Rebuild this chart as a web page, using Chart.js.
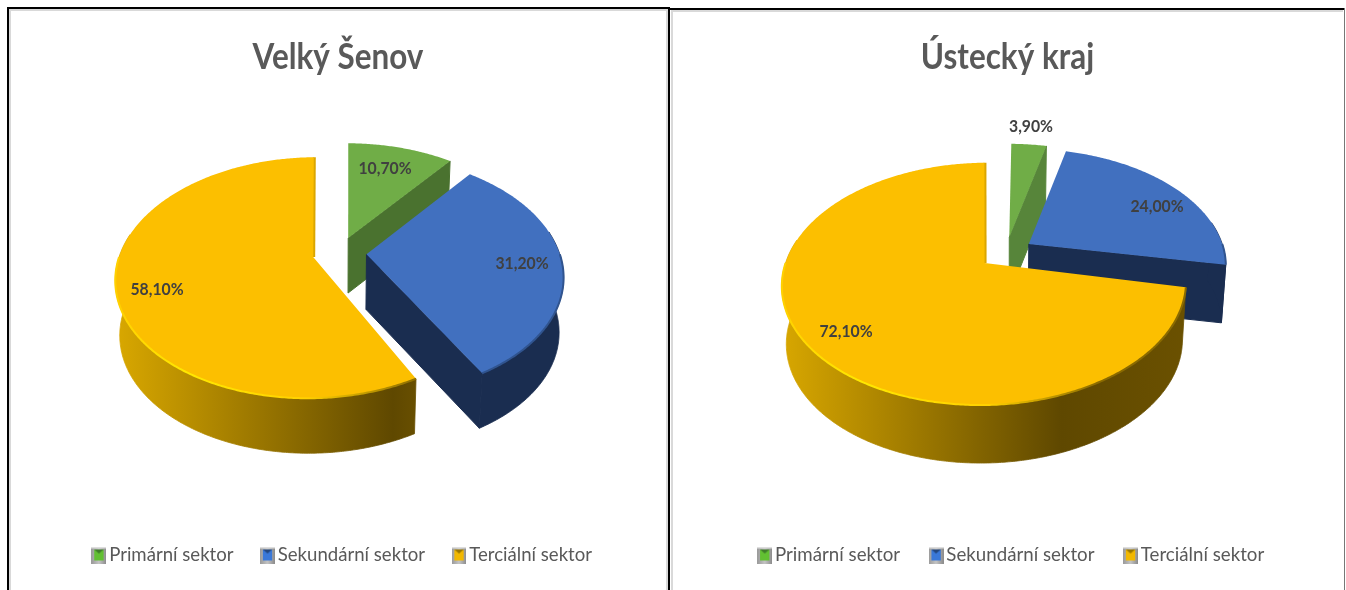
<!DOCTYPE html>
<html lang="cs">
<head>
<meta charset="utf-8">
<title>Velký Šenov a Ústecký kraj</title>
<script src="https://cdn.jsdelivr.net/npm/chart.js@4"></script>
<style>
html,body{margin:0;padding:0;background:#fff;width:1346px;height:590px;overflow:hidden}
canvas{position:absolute;top:0}
.b{position:absolute;background:#000}
.g{position:absolute;background:#d9d9d9}
</style>
</head>
<body>
<canvas id="c1" width="660" height="575" style="left:8px"></canvas>
<canvas id="c2" width="677" height="575" style="left:669px"></canvas>
<div class="g" style="left:9px;top:9px;width:659px;height:2px"></div>
<div class="g" style="left:9px;top:9px;width:2px;height:581px"></div>
<div class="g" style="left:666px;top:9px;width:2px;height:581px"></div>
<div class="g" style="left:671px;top:10px;width:672px;height:2px"></div>
<div class="g" style="left:671px;top:10px;width:2px;height:580px"></div>
<div class="b" style="left:7px;top:7px;width:663px;height:2px"></div>
<div class="b" style="left:7px;top:7px;width:2px;height:583px"></div>
<div class="b" style="left:668px;top:7px;width:2px;height:583px"></div>
<div class="b" style="left:670px;top:8px;width:675px;height:2px"></div>
<div class="b" style="left:1344px;top:8px;width:1px;height:582px;background:#777"></div>
<script>
const categories = ['Primární sektor', 'Sekundární sektor', 'Terciální sektor'];
const senovValues = [10.7, 31.2, 58.1];
const krajValues = [3.9, 24.0, 72.1];
const senovTitle = 'Velký Šenov';
const krajTitle = 'Ústecký kraj';
const topColors = ['#70ad47', '#4170bf', '#fcbf00'];
const LATO = 'Lato, Carlito, "Open Sans", sans-serif';
const EXPLODE = 0.14;

function project(p, u, v) {
  const w = 1 - p.k * v;
  return [p.x0 + p.a * u / w, p.y0 + p.b * v / w];
}
function lower(p, q) {
  return [p.x0 + (q[0] - p.x0) * 0.98, q[1] + p.depth];
}
function projectingContext(ctx, p, centre, unit) {
  let tx = 0, ty = 0;
  const stack = [];
  const map = (x, y) => {
    let dx = x - centre.x, dy = y - centre.y;
    const d = Math.hypot(dx, dy);
    if (d > 1e-6) { dx /= d; dy /= d; } else { dx = 0; dy = 0; }
    return project(p, dx + tx / unit, dy + ty / unit);
  };
  const own = {
    save() { stack.push([tx, ty]); ctx.save(); },
    restore() { [tx, ty] = stack.pop(); ctx.restore(); },
    translate(x, y) { tx += x; ty += y; },
    moveTo(x, y) { const q = map(x, y); ctx.moveTo(q[0], q[1]); },
    lineTo(x, y) { const q = map(x, y); ctx.lineTo(q[0], q[1]); },
    arc(x, y, r, s, e, ccw) {
      let sweep = e - s;
      if (ccw && sweep > 0) sweep -= Math.PI * 2;
      if (!ccw && sweep < 0) sweep += Math.PI * 2;
      const n = Math.max(2, Math.ceil(Math.abs(sweep) / 0.01));
      for (let i = 0; i <= n; i++) {
        const a = s + sweep * i / n;
        const q = map(x + r * Math.cos(a), y + r * Math.sin(a));
        ctx.lineTo(q[0], q[1]);
      }
    }
  };
  return new Proxy(ctx, {
    get(t, k) {
      if (k in own) return own[k];
      const val = t[k];
      return typeof val === 'function' ? val.bind(t) : val;
    },
    set(t, k, val) { t[k] = val; return true; }
  });
}
function poly(ctx, pts) {
  ctx.beginPath();
  pts.forEach((q, i) => i ? ctx.lineTo(q[0], q[1]) : ctx.moveTo(q[0], q[1]));
  ctx.closePath();
}
function hGrad(ctx, stops) {
  const x0 = stops[0][0], span = stops[stops.length - 1][0] - x0;
  const g = ctx.createLinearGradient(x0, 0, x0 + span, 0);
  stops.forEach(s => g.addColorStop((s[0] - x0) / span, s[1]));
  return g;
}
function squeeze(chart, box, sx, dx) {
  if (box._squeezed) return;
  box._squeezed = true;
  const draw = box.draw.bind(box);
  box.draw = function (area) {
    const ctx = chart.ctx, cx = chart.width / 2;
    ctx.save();
    ctx.translate(cx + dx, 0);
    ctx.scale(sx, 1);
    ctx.translate(-cx, 0);
    draw(area);
    ctx.restore();
  };
}
const extruded = {
  id: 'extruded',
  beforeDraw(chart, args, opts) {
    squeeze(chart, chart.titleBlock, 0.85, 0);
    squeeze(chart, chart.legend, opts.view.legendScale, opts.view.legendShift);
  },
  beforeDatasetDraw(chart, args, opts) {
    const ctx = chart.ctx, p = opts.view, meta = args.meta;
    meta.data.forEach((arc, i) => {
      const R = arc.outerRadius, off = arc.options.offset / 4;
      const mid = (arc.startAngle + arc.endAngle) / 2;
      const cu = Math.cos(mid) * off / R, cv = Math.sin(mid) * off / R;
      const rim = a => project(p, cu + Math.cos(a), cv + Math.sin(a));
      const apex = project(p, cu, cv);
      // the library trims an offset slice's arc by this angle at each end
      const fix = 1 - Math.sin(Math.min(Math.PI, arc.endAngle - arc.startAngle));
      const trim = (off * fix) / (2 * Math.PI * (R + off * fix));
      const startA = arc.startAngle + trim, endA = arc.endAngle - trim;
      const wallColor = p.walls[i];
      // radial wall facing the viewer
      const walls = [];
      if (Math.cos(endA) > 0.01) walls.push(endA);
      if (Math.cos(startA) < -0.03) walls.push(startA);
      ctx.fillStyle = wallColor;
      ctx.strokeStyle = wallColor;
      ctx.lineWidth = 1;
      walls.forEach(a => {
        const q = rim(a);
        poly(ctx, [apex, q, lower(p, q), lower(p, apex)]);
        ctx.fill();
        ctx.stroke();
      });
      // sliver of the cut face beside the straight back edge
      if (i === 2) {
        const q = rim(endA);
        ctx.beginPath();
        ctx.moveTo(apex[0] + 0.5, apex[1]);
        ctx.lineTo(q[0] + 0.5, q[1]);
        ctx.lineWidth = 3;
        ctx.strokeStyle = '#dba600';
        ctx.stroke();
      }
      // outer wall
      const from = Math.max(startA, -0.2), to = Math.min(endA, Math.PI + 0.2);
      if (to > from) {
        const up = [];
        for (let a = from; a < to; a += 0.01) up.push(rim(a));
        up.push(rim(to));
        const down = up.map(q => lower(p, q)).reverse();
        const fill = i === 2 ? hGrad(ctx, p.wall) : wallColor;
        ctx.fillStyle = fill;
        ctx.strokeStyle = fill;
        ctx.lineWidth = 0.8;
        poly(ctx, up.concat(down));
        ctx.fill();
        ctx.stroke();
      }
      // top face: the library's own arc, traced through the perspective view
      arc.draw(projectingContext(ctx, p, {x: arc.x, y: arc.y}, R));
      // lit rim
      const a1 = Math.max(startA, 0), a2 = Math.min(endA, Math.PI);
      if (a2 > a1) {
        ctx.save();
        ctx.beginPath();
        let first = true;
        for (let a = a1; a < a2; a += 0.01) {
          const q = rim(a);
          if (first) { ctx.moveTo(q[0], q[1]); first = false; } else ctx.lineTo(q[0], q[1]);
        }
        const last = rim(a2);
        ctx.lineTo(last[0], last[1]);
        ctx.lineWidth = 2;
        ctx.strokeStyle = i === 2 ? hGrad(ctx, p.rim) : '#30548f';
        ctx.stroke();
        ctx.restore();
      }
    });
    return false;
  },
  afterDatasetsDraw(chart, args, opts) {
    const ctx = chart.ctx;
    ctx.save();
    ctx.font = 'bold 17.5px ' + LATO;
    ctx.fillStyle = '#404040';
    ctx.textAlign = 'center';
    ctx.textBaseline = 'middle';
    chart.data.datasets[0].data.forEach((val, i) => {
      const text = val.toFixed(2).replace('.', ',') + '%';
      ctx.save();
      ctx.translate(opts.labels[i][0], opts.labels[i][1]);
      ctx.scale(0.9, 1);
      ctx.fillText(text, 0, 0);
      ctx.restore();
    });
    ctx.restore();
  }
};
function marker(color, dark) {
  const c = document.createElement('canvas');
  c.width = 16; c.height = 17;
  const x = c.getContext('2d');
  const g = x.createLinearGradient(0, 0, 16, 0);
  g.addColorStop(0, '#9a9a9a'); g.addColorStop(0.5, '#c4c4c4'); g.addColorStop(1, '#8b8b8b');
  x.fillStyle = g; x.fillRect(0, 0, 16, 17);
  x.fillStyle = '#dedede'; x.fillRect(0, 0, 16, 2);
  x.fillStyle = color; x.fillRect(3, 3, 10, 11);
  x.fillStyle = dark;
  x.beginPath(); x.moveTo(3, 3); x.lineTo(13, 3); x.lineTo(8, 7); x.closePath(); x.fill();
  return c;
}
const markerColors = [['#62c032', '#3f7d2a'], ['#3a78d8', '#24477e'], ['#f2b800', '#9a7700']];
function makeChart(id, title, values, view, labels) {
  new Chart(document.getElementById(id), {
    type: 'pie',
    data: {
      labels: categories,
      datasets: [{
        data: values,
        backgroundColor: topColors,
        borderWidth: 0,
        hoverOffset: 0,
        offset: c => {
          const a = c.chart.chartArea;
          const h = a ? Math.min(a.width, a.height) : 0;
          return 4 * EXPLODE * h / (2 + 4 * EXPLODE);
        }
      }]
    },
    options: {
      responsive: false,
      animation: false,
      devicePixelRatio: 1,
      layout: {padding: 0},
      plugins: {
        title: {
          display: true, text: title, color: '#595959',
          font: {family: LATO, size: 37, weight: 'bold'},
          padding: {top: 35, bottom: 30}
        },
        legend: {
          position: 'bottom',
          labels: {
            color: '#595959',
            font: {family: LATO, size: 20},
            usePointStyle: true,
            boxWidth: 2, boxHeight: 20,
            padding: view.legendGap,
            generateLabels(chart) {
              return Chart.overrides.pie.plugins.legend.labels.generateLabels(chart)
                .map((it, i) => Object.assign(it, {pointStyle: marker(markerColors[i][0], markerColors[i][1])}));
            }
          }
        },
        tooltip: {enabled: false},
        extruded: {view, labels}
      }
    },
    plugins: [extruded]
  });
}
const wallStops = (a, b, c) => [[a, '#d8a700'], [b, '#5f4800'], [c, '#6b5100']];
const rimStops = (a, b, c, d) => [[a, '#ffd000'], [b, '#ffe800'], [c, '#ffd000'], [d, '#8a6a00']];
function start() {
  makeChart('c1', senovTitle, senovValues,
    {x0: 331.5, y0: 253, a: 193, b: 115.6, k: 0.17, depth: 55,
     legendScale: 0.93, legendShift: 7, legendGap: 35.5,
     walls: ['#4a722f', '#1a2d50', '#c79500'],
     wall: wallStops(110, 385, 415), rim: rimStops(107, 180, 300, 412)},
    [[377, 168], [514, 263], [149, 289]]);
  makeChart('c2', krajTitle, krajValues,
    {x0: 337, y0: 252.6, a: 196, b: 114, k: 0.17, depth: 58,
     legendScale: 0.935, legendShift: 6.5, legendGap: 37.5,
     walls: ['#57853a', '#1a2d50', '#c79500'],
     wall: wallStops(113, 392, 520), rim: rimStops(110, 190, 320, 430)},
    [[362, 126], [488, 206], [177, 331]]);
}
if (document.fonts && document.fonts.load) {
  Promise.all([document.fonts.load('bold 37px Lato'), document.fonts.load('20px Lato')]).then(start, start);
} else start();
</script>
</body>
</html>
